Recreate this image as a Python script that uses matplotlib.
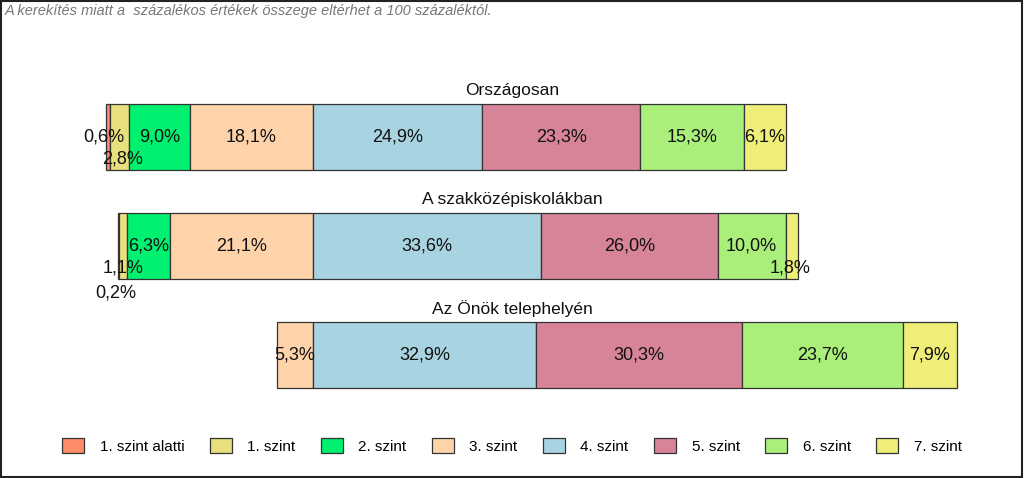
import matplotlib.pyplot as plt
import numpy as np
from matplotlib.patches import Rectangle

plt.rcParams['font.family'] = ['Liberation Sans', 'DejaVu Sans']

# data
groups = ['Országosan', 'A szakközépiskolákban', 'Az Önök telephelyén']
levels = ['1. szint alatti', '1. szint', '2. szint', '3. szint',
          '4. szint', '5. szint', '6. szint', '7. szint']
orszagos = [0.6, 2.8, 9.0, 18.1, 24.9, 23.3, 15.3, 6.1]
szakkozep = [0.2, 1.1, 6.3, 21.1, 33.6, 26.0, 10.0, 1.8]
telephely = [0.0, 0.0, 0.0, 5.3, 32.9, 30.3, 23.7, 7.9]
values = [orszagos, szakkozep, telephely]

colors = ['#FF8C69', '#E8E07F', '#00F070', '#FFD3AA',
          '#A8D4E2', '#D88498', '#A9EF7A', '#EEEE78']

# label offsets (points) for the tiny segments: (row, level) -> (dx, dy)
small_offsets = {(0, 0): (-3, 0), (0, 1): (2, -16),
                 (1, 0): (-2, -34), (1, 1): (0, -16),
                 (1, 7): (-1, -16)}

fig = plt.figure(figsize=(10.24, 4.78), dpi=100)
ax = fig.add_axes([0, 0, 1, 1])
ax.set_xlim(-313 / 6.79, (1024 - 313) / 6.79)
ax.set_ylim((478 - 137) / 109, -137 / 109)
ax.axis('off')

for i, row in enumerate(values):
    # bars aligned on the 3./4. szint boundary
    left = -sum(row[:4])
    for j, v in enumerate(row):
        if v > 0:
            ax.barh(i, v, left=left, height=0.605, color=colors[j],
                    edgecolor='#333333', linewidth=0.9)
            dx, dy = small_offsets.get((i, j), (0, 0))
            ax.annotate(f'{v:.1f}%'.replace('.', ','),
                        (left + v / 2, i), xytext=(dx, dy),
                        textcoords='offset points', ha='center', va='center',
                        fontsize=13, color='#111111')
        left += v
    ax.text(0.5, i - 0.43, groups[i], transform=ax.get_yaxis_transform(),
            ha='center', va='center', fontsize=12.5, color='#111111')

fig.text(0.005, 0.978, 'A kerekítés miatt a  százalékos értékek összege eltérhet a 100 százaléktól.',
         ha='left', va='center', fontsize=10.5, style='italic', color='#777777')

handles = [Rectangle((0, 0), 1, 1, facecolor=c, edgecolor='#333333', linewidth=0.9)
           for c in colors]
fig.legend(handles, levels, loc='center', bbox_to_anchor=(0.5, 0.067), ncol=8,
           frameon=False, fontsize=11, handlelength=1.45, handleheight=1.1,
           columnspacing=1.67, handletextpad=1.0)

fig.patches.append(Rectangle((0.001, 0.002), 0.997, 0.996, transform=fig.transFigure,
                             fill=False, edgecolor='#222222', linewidth=1.5))

fig.savefig('out.png', dpi=100)
